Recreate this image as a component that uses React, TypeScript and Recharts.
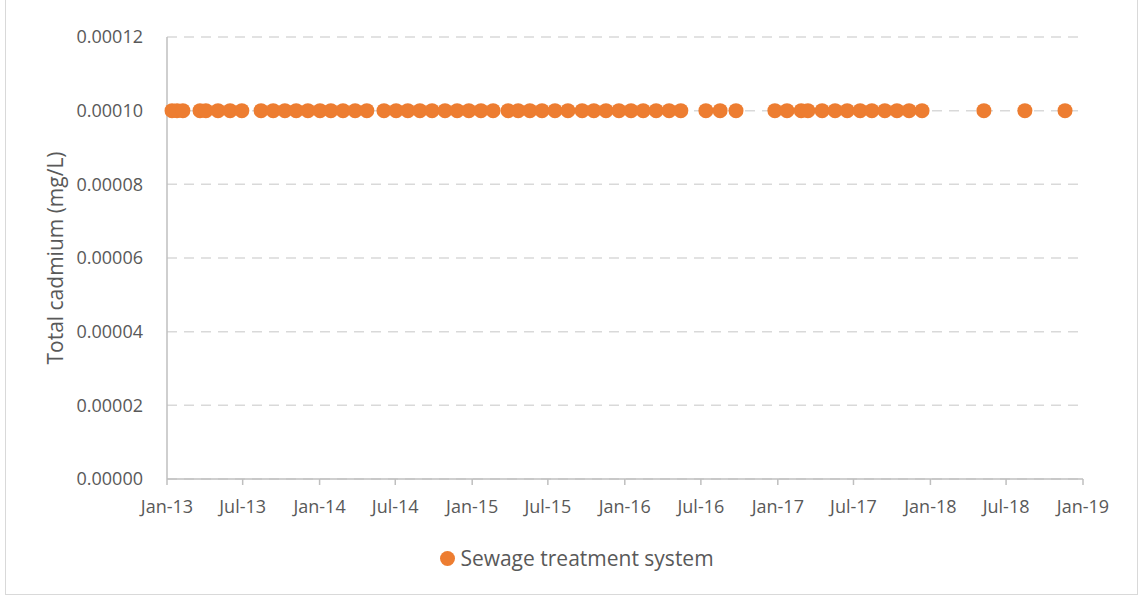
import {
  ScatterChart, Scatter, XAxis, YAxis, CartesianGrid, Legend
} from 'recharts';

// sampling dates (roughly monthly)
const sampleDates = [
  '2013-01-13', '2013-01-25', '2013-02-08', '2013-03-21', '2013-04-04', '2013-05-03',
  '2013-06-01', '2013-06-29', '2013-08-14', '2013-09-12', '2013-10-10', '2013-11-06',
  '2013-12-04',
  '2014-01-02', '2014-01-28', '2014-02-26', '2014-03-27', '2014-04-24', '2014-06-04',
  '2014-07-03', '2014-07-31', '2014-08-29', '2014-09-27', '2014-10-28', '2014-11-26',
  '2014-12-24',
  '2015-01-22', '2015-02-20', '2015-03-28', '2015-04-21', '2015-05-19', '2015-06-17',
  '2015-07-18', '2015-08-18', '2015-09-21', '2015-10-19', '2015-11-17', '2015-12-18',
  '2016-01-16', '2016-02-14', '2016-03-16', '2016-04-16', '2016-05-14', '2016-07-13',
  '2016-08-16', '2016-09-23', '2016-12-25',
  '2017-01-23', '2017-02-26', '2017-03-14', '2017-04-17', '2017-05-18', '2017-06-16',
  '2017-07-17', '2017-08-14', '2017-09-14', '2017-10-13', '2017-11-11', '2017-12-12',
  '2018-05-09', '2018-08-15', '2018-11-19',
];

// total cadmium, mg/L
const cadmium = [
  0.0001, 0.0001, 0.0001, 0.0001, 0.0001, 0.0001, 0.0001, 0.0001, 0.0001, 0.0001, 0.0001, 0.0001,
  0.0001,
  0.0001, 0.0001, 0.0001, 0.0001, 0.0001, 0.0001, 0.0001, 0.0001, 0.0001, 0.0001, 0.0001, 0.0001,
  0.0001,
  0.0001, 0.0001, 0.0001, 0.0001, 0.0001, 0.0001, 0.0001, 0.0001, 0.0001, 0.0001, 0.0001, 0.0001,
  0.0001, 0.0001, 0.0001, 0.0001, 0.0001, 0.0001, 0.0001, 0.0001, 0.0001,
  0.0001, 0.0001, 0.0001, 0.0001, 0.0001, 0.0001, 0.0001, 0.0001, 0.0001, 0.0001, 0.0001, 0.0001,
  0.0001, 0.0001, 0.0001,
];

const xTickDates = [
  '2013-01-01', '2013-07-01', '2014-01-01', '2014-07-01', '2015-01-01', '2015-07-01',
  '2016-01-01', '2016-07-01', '2017-01-01', '2017-07-01', '2018-01-01', '2018-07-01',
  '2019-01-01',
];
const yTicks = [0, 0.00002, 0.00004, 0.00006, 0.00008, 0.0001, 0.00012];
const monthNames = ['Jan', 'Feb', 'Mar', 'Apr', 'May', 'Jun', 'Jul', 'Aug', 'Sep', 'Oct', 'Nov', 'Dec'];

const toTime = (s: string) => Date.parse(s + 'T00:00:00Z');

const data = sampleDates.map((d, i) => ({ t: toTime(d), cd: cadmium[i] }));
const xTicks = xTickDates.map(toTime);

const FONT = '"Open Sans", sans-serif';
const TEXT = '#595959';
const ORANGE = '#ED7D31';

const fmtDate = (v: number) => {
  const d = new Date(v);
  return `${monthNames[d.getUTCMonth()]}-${String(d.getUTCFullYear()).slice(2)}`;
};

const Dot = (props: any) => <circle cx={props.cx} cy={props.cy} r={7.5} fill={ORANGE} />;

const renderLegend = (props: any) => (
  <div style={{ display: 'flex', justifyContent: 'center', alignItems: 'center', fontFamily: FONT }}>
    {(props.payload || []).map((p: any) => (
      <div key={p.value} style={{ display: 'flex', alignItems: 'center', marginLeft: 14 }}>
        <span style={{
          display: 'inline-block', width: 15, height: 15, borderRadius: '50%',
          background: ORANGE, marginRight: 5,
        }} />
        <span style={{ fontSize: 21, color: TEXT }}>{p.value}</span>
      </div>
    ))}
  </div>
);

export default function App() {
  return (
    <div style={{ position: 'absolute', left: 0, top: 0, width: 1140, height: 596, background: '#fff' }}>
      <div style={{
        position: 'absolute', left: 5, top: -1, width: 1133, height: 596,
        border: '1px solid #d9d9d9', boxSizing: 'border-box',
      }} />
      <ScatterChart
        width={1140}
        height={596}
        margin={{ top: 37, right: 57, left: 0, bottom: 59 }}
        style={{ position: 'absolute', left: 0, top: 0 }}
      >
        <CartesianGrid vertical={false} stroke="#d9d9d9" strokeDasharray="10 7" strokeWidth={1.5} />
        <XAxis
          type="number"
          dataKey="t"
          domain={[xTicks[0], xTicks[xTicks.length - 1]]}
          ticks={xTicks}
          tickFormatter={fmtDate}
          interval={0}
          height={30}
          stroke="#bfbfbf"
          strokeWidth={1.5}
          tickSize={6}
          tickMargin={15}
          tick={{ fill: TEXT, fontSize: 18, fontFamily: FONT }}
        />
        <YAxis
          type="number"
          dataKey="cd"
          domain={[0, 0.00012]}
          ticks={yTicks}
          tickFormatter={(v: number) => v.toFixed(5)}
          width={167}
          stroke="#bfbfbf"
          strokeWidth={1.5}
          tickLine={false}
          tickMargin={18}
          tick={{ fill: TEXT, fontSize: 18, fontFamily: FONT }}
          label={{
            value: 'Total cadmium (mg/L)',
            content: (p: any) => {
              const vb = p.viewBox;
              const cx = vb.x + 55;
              const cy = vb.y + vb.height / 2;
              return (
                <text
                  x={cx}
                  y={cy}
                  transform={`rotate(-90 ${cx} ${cy})`}
                  textAnchor="middle"
                  dominantBaseline="central"
                  fill={TEXT}
                  fontSize={21}
                  fontFamily={FONT}
                >
                  Total cadmium (mg/L)
                </text>
              );
            },
          }}
        />
        <Legend
          layout="vertical"
          verticalAlign="bottom"
          align="center"
          content={renderLegend}
          wrapperStyle={{ top: 544, left: 0, width: 1140 }}
        />
        <Scatter
          name="Sewage treatment system"
          data={data}
          fill={ORANGE}
          shape={Dot}
          legendType="circle"
          isAnimationActive={false}
        />
      </ScatterChart>
    </div>
  );
}
